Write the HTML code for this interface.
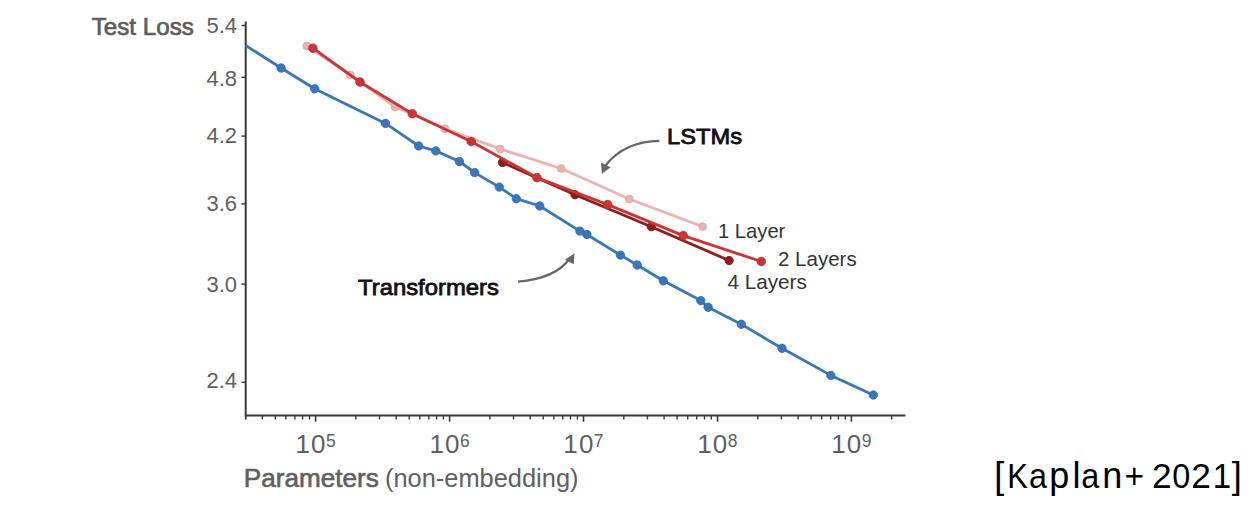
<!DOCTYPE html>
<html><head><meta charset="utf-8"><style>
html,body{margin:0;padding:0;background:#fff;width:1250px;height:506px;overflow:hidden}
svg{display:block;font-family:"Liberation Sans",sans-serif}
</style></head><body>
<svg width="1250" height="506" viewBox="0 0 1250 506">
<path d="M245.7,21.5 V415.5 H905.5" fill="none" stroke="#3a3a3a" stroke-width="2"/>
<line x1="241.5" y1="25.5" x2="245.7" y2="25.5" stroke="#3a3a3a" stroke-width="1.5"/>
<text x="237" y="33.4" text-anchor="end" font-size="22" fill="#606060">5.4</text>
<line x1="241.5" y1="77.3" x2="245.7" y2="77.3" stroke="#3a3a3a" stroke-width="1.5"/>
<text x="237" y="85.8" text-anchor="end" font-size="22" fill="#606060">4.8</text>
<line x1="241.5" y1="136.1" x2="245.7" y2="136.1" stroke="#3a3a3a" stroke-width="1.5"/>
<text x="237" y="142.7" text-anchor="end" font-size="22" fill="#606060">4.2</text>
<line x1="241.5" y1="203.9" x2="245.7" y2="203.9" stroke="#3a3a3a" stroke-width="1.5"/>
<text x="237" y="210.8" text-anchor="end" font-size="22" fill="#606060">3.6</text>
<line x1="241.5" y1="284.1" x2="245.7" y2="284.1" stroke="#3a3a3a" stroke-width="1.5"/>
<text x="237" y="291.9" text-anchor="end" font-size="22" fill="#606060">3.0</text>
<line x1="241.5" y1="382.3" x2="245.7" y2="382.3" stroke="#3a3a3a" stroke-width="1.5"/>
<text x="237" y="388.4" text-anchor="end" font-size="22" fill="#606060">2.4</text>
<line x1="245.6" y1="415.5" x2="245.6" y2="419.5" stroke="#3a3a3a" stroke-width="1.4"/>
<line x1="262.3" y1="415.5" x2="262.3" y2="419.5" stroke="#3a3a3a" stroke-width="1.4"/>
<line x1="275.3" y1="415.5" x2="275.3" y2="419.5" stroke="#3a3a3a" stroke-width="1.4"/>
<line x1="285.9" y1="415.5" x2="285.9" y2="419.5" stroke="#3a3a3a" stroke-width="1.4"/>
<line x1="294.9" y1="415.5" x2="294.9" y2="419.5" stroke="#3a3a3a" stroke-width="1.4"/>
<line x1="302.6" y1="415.5" x2="302.6" y2="419.5" stroke="#3a3a3a" stroke-width="1.4"/>
<line x1="309.5" y1="415.5" x2="309.5" y2="419.5" stroke="#3a3a3a" stroke-width="1.4"/>
<line x1="315.6" y1="415.5" x2="315.6" y2="421.7" stroke="#3a3a3a" stroke-width="1.6"/>
<line x1="355.9" y1="415.5" x2="355.9" y2="419.5" stroke="#3a3a3a" stroke-width="1.4"/>
<line x1="379.5" y1="415.5" x2="379.5" y2="419.5" stroke="#3a3a3a" stroke-width="1.4"/>
<line x1="396.2" y1="415.5" x2="396.2" y2="419.5" stroke="#3a3a3a" stroke-width="1.4"/>
<line x1="409.2" y1="415.5" x2="409.2" y2="419.5" stroke="#3a3a3a" stroke-width="1.4"/>
<line x1="419.8" y1="415.5" x2="419.8" y2="419.5" stroke="#3a3a3a" stroke-width="1.4"/>
<line x1="428.8" y1="415.5" x2="428.8" y2="419.5" stroke="#3a3a3a" stroke-width="1.4"/>
<line x1="436.6" y1="415.5" x2="436.6" y2="419.5" stroke="#3a3a3a" stroke-width="1.4"/>
<line x1="443.4" y1="415.5" x2="443.4" y2="419.5" stroke="#3a3a3a" stroke-width="1.4"/>
<line x1="449.6" y1="415.5" x2="449.6" y2="421.7" stroke="#3a3a3a" stroke-width="1.6"/>
<line x1="489.9" y1="415.5" x2="489.9" y2="419.5" stroke="#3a3a3a" stroke-width="1.4"/>
<line x1="513.5" y1="415.5" x2="513.5" y2="419.5" stroke="#3a3a3a" stroke-width="1.4"/>
<line x1="530.2" y1="415.5" x2="530.2" y2="419.5" stroke="#3a3a3a" stroke-width="1.4"/>
<line x1="543.2" y1="415.5" x2="543.2" y2="419.5" stroke="#3a3a3a" stroke-width="1.4"/>
<line x1="553.8" y1="415.5" x2="553.8" y2="419.5" stroke="#3a3a3a" stroke-width="1.4"/>
<line x1="562.8" y1="415.5" x2="562.8" y2="419.5" stroke="#3a3a3a" stroke-width="1.4"/>
<line x1="570.5" y1="415.5" x2="570.5" y2="419.5" stroke="#3a3a3a" stroke-width="1.4"/>
<line x1="577.4" y1="415.5" x2="577.4" y2="419.5" stroke="#3a3a3a" stroke-width="1.4"/>
<line x1="583.5" y1="415.5" x2="583.5" y2="421.7" stroke="#3a3a3a" stroke-width="1.6"/>
<line x1="623.8" y1="415.5" x2="623.8" y2="419.5" stroke="#3a3a3a" stroke-width="1.4"/>
<line x1="647.4" y1="415.5" x2="647.4" y2="419.5" stroke="#3a3a3a" stroke-width="1.4"/>
<line x1="664.1" y1="415.5" x2="664.1" y2="419.5" stroke="#3a3a3a" stroke-width="1.4"/>
<line x1="677.1" y1="415.5" x2="677.1" y2="419.5" stroke="#3a3a3a" stroke-width="1.4"/>
<line x1="687.7" y1="415.5" x2="687.7" y2="419.5" stroke="#3a3a3a" stroke-width="1.4"/>
<line x1="696.7" y1="415.5" x2="696.7" y2="419.5" stroke="#3a3a3a" stroke-width="1.4"/>
<line x1="704.5" y1="415.5" x2="704.5" y2="419.5" stroke="#3a3a3a" stroke-width="1.4"/>
<line x1="711.3" y1="415.5" x2="711.3" y2="419.5" stroke="#3a3a3a" stroke-width="1.4"/>
<line x1="717.5" y1="415.5" x2="717.5" y2="421.7" stroke="#3a3a3a" stroke-width="1.6"/>
<line x1="757.8" y1="415.5" x2="757.8" y2="419.5" stroke="#3a3a3a" stroke-width="1.4"/>
<line x1="781.4" y1="415.5" x2="781.4" y2="419.5" stroke="#3a3a3a" stroke-width="1.4"/>
<line x1="798.1" y1="415.5" x2="798.1" y2="419.5" stroke="#3a3a3a" stroke-width="1.4"/>
<line x1="811.1" y1="415.5" x2="811.1" y2="419.5" stroke="#3a3a3a" stroke-width="1.4"/>
<line x1="821.7" y1="415.5" x2="821.7" y2="419.5" stroke="#3a3a3a" stroke-width="1.4"/>
<line x1="830.7" y1="415.5" x2="830.7" y2="419.5" stroke="#3a3a3a" stroke-width="1.4"/>
<line x1="838.4" y1="415.5" x2="838.4" y2="419.5" stroke="#3a3a3a" stroke-width="1.4"/>
<line x1="845.3" y1="415.5" x2="845.3" y2="419.5" stroke="#3a3a3a" stroke-width="1.4"/>
<line x1="851.4" y1="415.5" x2="851.4" y2="421.7" stroke="#3a3a3a" stroke-width="1.6"/>
<line x1="891.7" y1="415.5" x2="891.7" y2="419.5" stroke="#3a3a3a" stroke-width="1.4"/>
<line x1="245.7" y1="415.5" x2="245.7" y2="419.5" stroke="#3a3a3a" stroke-width="1.4"/>
<text x="295.4" y="453.4" font-size="26" fill="#606060">1<tspan dx="1.2">0</tspan><tspan font-size="17.5" dx="0.4" dy="-6.2">5</tspan></text>
<text x="429.4" y="453.4" font-size="26" fill="#606060">1<tspan dx="1.2">0</tspan><tspan font-size="17.5" dx="0.4" dy="-6.2">6</tspan></text>
<text x="563.3" y="453.4" font-size="26" fill="#606060">1<tspan dx="1.2">0</tspan><tspan font-size="17.5" dx="0.4" dy="-6.2">7</tspan></text>
<text x="697.2" y="453.4" font-size="26" fill="#606060">1<tspan dx="1.2">0</tspan><tspan font-size="17.5" dx="0.4" dy="-6.2">8</tspan></text>
<text x="831.2" y="453.4" font-size="26" fill="#606060">1<tspan dx="1.2">0</tspan><tspan font-size="17.5" dx="0.4" dy="-6.2">9</tspan></text>
<polyline points="245.7,45.5 281.1,68.0" fill="none" stroke="#3a77b8" stroke-width="2.8"/>
<polyline points="281.1,68.0 314.7,88.8 385.5,123.4 418.7,146.0 435.8,150.9 459.4,161.5 474.7,172.6 499.3,187.1 516.3,198.7 539.8,206.0 579.9,231.1 586.9,234.5 620.4,255.1 637.2,265.0 663.3,280.8 700.8,300.6 708.1,307.2 741.3,324.3 782.0,348.3 830.9,375.4 873.3,395.0" fill="none" stroke="#3a77b8" stroke-width="2.8" stroke-linejoin="round" stroke-linecap="round"/><circle cx="281.1" cy="68.0" r="4.199999999999999" fill="#3a77b8" stroke="#3068a6" stroke-width="0.8"/><circle cx="314.7" cy="88.8" r="4.199999999999999" fill="#3a77b8" stroke="#3068a6" stroke-width="0.8"/><circle cx="385.5" cy="123.4" r="4.199999999999999" fill="#3a77b8" stroke="#3068a6" stroke-width="0.8"/><circle cx="418.7" cy="146.0" r="4.199999999999999" fill="#3a77b8" stroke="#3068a6" stroke-width="0.8"/><circle cx="435.8" cy="150.9" r="4.199999999999999" fill="#3a77b8" stroke="#3068a6" stroke-width="0.8"/><circle cx="459.4" cy="161.5" r="4.199999999999999" fill="#3a77b8" stroke="#3068a6" stroke-width="0.8"/><circle cx="474.7" cy="172.6" r="4.199999999999999" fill="#3a77b8" stroke="#3068a6" stroke-width="0.8"/><circle cx="499.3" cy="187.1" r="4.199999999999999" fill="#3a77b8" stroke="#3068a6" stroke-width="0.8"/><circle cx="516.3" cy="198.7" r="4.199999999999999" fill="#3a77b8" stroke="#3068a6" stroke-width="0.8"/><circle cx="539.8" cy="206.0" r="4.199999999999999" fill="#3a77b8" stroke="#3068a6" stroke-width="0.8"/><circle cx="579.9" cy="231.1" r="4.199999999999999" fill="#3a77b8" stroke="#3068a6" stroke-width="0.8"/><circle cx="586.9" cy="234.5" r="4.199999999999999" fill="#3a77b8" stroke="#3068a6" stroke-width="0.8"/><circle cx="620.4" cy="255.1" r="4.199999999999999" fill="#3a77b8" stroke="#3068a6" stroke-width="0.8"/><circle cx="637.2" cy="265.0" r="4.199999999999999" fill="#3a77b8" stroke="#3068a6" stroke-width="0.8"/><circle cx="663.3" cy="280.8" r="4.199999999999999" fill="#3a77b8" stroke="#3068a6" stroke-width="0.8"/><circle cx="700.8" cy="300.6" r="4.199999999999999" fill="#3a77b8" stroke="#3068a6" stroke-width="0.8"/><circle cx="708.1" cy="307.2" r="4.199999999999999" fill="#3a77b8" stroke="#3068a6" stroke-width="0.8"/><circle cx="741.3" cy="324.3" r="4.199999999999999" fill="#3a77b8" stroke="#3068a6" stroke-width="0.8"/><circle cx="782.0" cy="348.3" r="4.199999999999999" fill="#3a77b8" stroke="#3068a6" stroke-width="0.8"/><circle cx="830.9" cy="375.4" r="4.199999999999999" fill="#3a77b8" stroke="#3068a6" stroke-width="0.8"/><circle cx="873.3" cy="395.0" r="4.199999999999999" fill="#3a77b8" stroke="#3068a6" stroke-width="0.8"/>
<polyline points="306.8,46.0 350.2,74.9 395.0,107.0 444.9,128.7 500.1,148.9 561.2,168.5 629.2,199.0 702.6,226.6" fill="none" stroke="#e9b4b1" stroke-width="2.8" stroke-linejoin="round" stroke-linecap="round"/><circle cx="306.8" cy="46.0" r="3.9" fill="#e9b4b1" stroke="#dda5a3" stroke-width="0.8"/><circle cx="350.2" cy="74.9" r="3.9" fill="#e9b4b1" stroke="#dda5a3" stroke-width="0.8"/><circle cx="395.0" cy="107.0" r="3.9" fill="#e9b4b1" stroke="#dda5a3" stroke-width="0.8"/><circle cx="444.9" cy="128.7" r="3.9" fill="#e9b4b1" stroke="#dda5a3" stroke-width="0.8"/><circle cx="500.1" cy="148.9" r="3.9" fill="#e9b4b1" stroke="#dda5a3" stroke-width="0.8"/><circle cx="561.2" cy="168.5" r="3.9" fill="#e9b4b1" stroke="#dda5a3" stroke-width="0.8"/><circle cx="629.2" cy="199.0" r="3.9" fill="#e9b4b1" stroke="#dda5a3" stroke-width="0.8"/><circle cx="702.6" cy="226.6" r="3.9" fill="#e9b4b1" stroke="#dda5a3" stroke-width="0.8"/>
<polyline points="502.5,162.5 575.0,194.7 651.3,226.7 729.1,260.5" fill="none" stroke="#8e1c1c" stroke-width="2.8" stroke-linejoin="round" stroke-linecap="round"/><circle cx="502.5" cy="162.5" r="4.199999999999999" fill="#8e1c1c" stroke="#7c1717" stroke-width="0.8"/><circle cx="575.0" cy="194.7" r="4.199999999999999" fill="#8e1c1c" stroke="#7c1717" stroke-width="0.8"/><circle cx="651.3" cy="226.7" r="4.199999999999999" fill="#8e1c1c" stroke="#7c1717" stroke-width="0.8"/><circle cx="729.1" cy="260.5" r="4.199999999999999" fill="#8e1c1c" stroke="#7c1717" stroke-width="0.8"/>
<polyline points="312.9,48.2 360.0,82.0 412.3,113.7 471.2,141.5 536.9,177.6 607.7,204.6 683.2,235.6 761.3,261.5" fill="none" stroke="#c83636" stroke-width="2.8" stroke-linejoin="round" stroke-linecap="round"/><circle cx="312.9" cy="48.2" r="4.3" fill="#c83636" stroke="#b32c2c" stroke-width="0.8"/><circle cx="360.0" cy="82.0" r="4.3" fill="#c83636" stroke="#b32c2c" stroke-width="0.8"/><circle cx="412.3" cy="113.7" r="4.3" fill="#c83636" stroke="#b32c2c" stroke-width="0.8"/><circle cx="471.2" cy="141.5" r="4.3" fill="#c83636" stroke="#b32c2c" stroke-width="0.8"/><circle cx="536.9" cy="177.6" r="4.3" fill="#c83636" stroke="#b32c2c" stroke-width="0.8"/><circle cx="607.7" cy="204.6" r="4.3" fill="#c83636" stroke="#b32c2c" stroke-width="0.8"/><circle cx="683.2" cy="235.6" r="4.3" fill="#c83636" stroke="#b32c2c" stroke-width="0.8"/><circle cx="761.3" cy="261.5" r="4.3" fill="#c83636" stroke="#b32c2c" stroke-width="0.8"/>
<path d="M659.3,140.9 C640,141 618,148 604.5,167" fill="none" stroke="#666666" stroke-width="2.2"/>
<path d="M601.9,173.8 L601.0,162.8 L610.6,167.2 Z" fill="#666666"/>
<path d="M518,281.7 C542,279.5 559,273 569,259.5" fill="none" stroke="#666666" stroke-width="2.2"/>
<path d="M574.4,253.3 L565.0,259.8 L573.8,264.3 Z" fill="#666666"/>
<text x="91.8" y="34.8" font-size="24" fill="#5c5c5c" stroke="#5c5c5c" stroke-width="0.7" textLength="102" lengthAdjust="spacingAndGlyphs">Test Loss</text>
<text x="667" y="144.2" font-size="21.5" fill="#111" stroke="#111" stroke-width="0.8" textLength="75" lengthAdjust="spacingAndGlyphs">LSTMs</text>
<text x="358" y="295.3" font-size="22.5" fill="#111" stroke="#111" stroke-width="0.8" textLength="141" lengthAdjust="spacingAndGlyphs">Transformers</text>
<text x="718" y="237.7" font-size="20.2" fill="#333">1 Layer</text>
<text x="778" y="265.8" font-size="20.5" fill="#333">2 Layers</text>
<text x="727.5" y="288.8" font-size="20.7" fill="#333">4 Layers</text>
<text x="243.8" y="486.5" font-size="25" fill="#606060" stroke="#606060" stroke-width="0.6" textLength="135" lengthAdjust="spacingAndGlyphs">Parameters</text>
<text x="385" y="486.6" font-size="25" fill="#606060" textLength="193.5" lengthAdjust="spacingAndGlyphs">(non-embedding)</text>
<g fill="#000"><text transform="translate(994.26,488.4) scale(1.0,1)" font-size="36.0">[</text><text transform="translate(1007.18,488.4) scale(0.86,1)" font-size="36.0">K</text><text transform="translate(1028.95,488.4) scale(0.9,1)" font-size="36.0">a</text><text transform="translate(1049.33,488.4) scale(1.0,1)" font-size="36.0">p</text><text transform="translate(1072.54,488.4) scale(1.0,1)" font-size="36.0">l</text><text transform="translate(1081.20,488.4) scale(0.9,1)" font-size="36.0">a</text><text transform="translate(1102.31,488.4) scale(1.0,1)" font-size="36.0">n</text><text transform="translate(1124.53,488.4) scale(0.93,1)" font-size="36.0">+</text><text transform="translate(1151.99,488.4) scale(0.98,1)" font-size="36.0">2</text><text transform="translate(1172.24,488.4) scale(0.9,1)" font-size="36.0">0</text><text transform="translate(1191.19,488.4) scale(0.98,1)" font-size="36.0">2</text><text transform="translate(1212.64,488.4) scale(0.92,1)" font-size="36.0">1</text><text transform="translate(1231.64,488.4) scale(1.0,1)" font-size="36.0">]</text></g>
</svg></body></html>
